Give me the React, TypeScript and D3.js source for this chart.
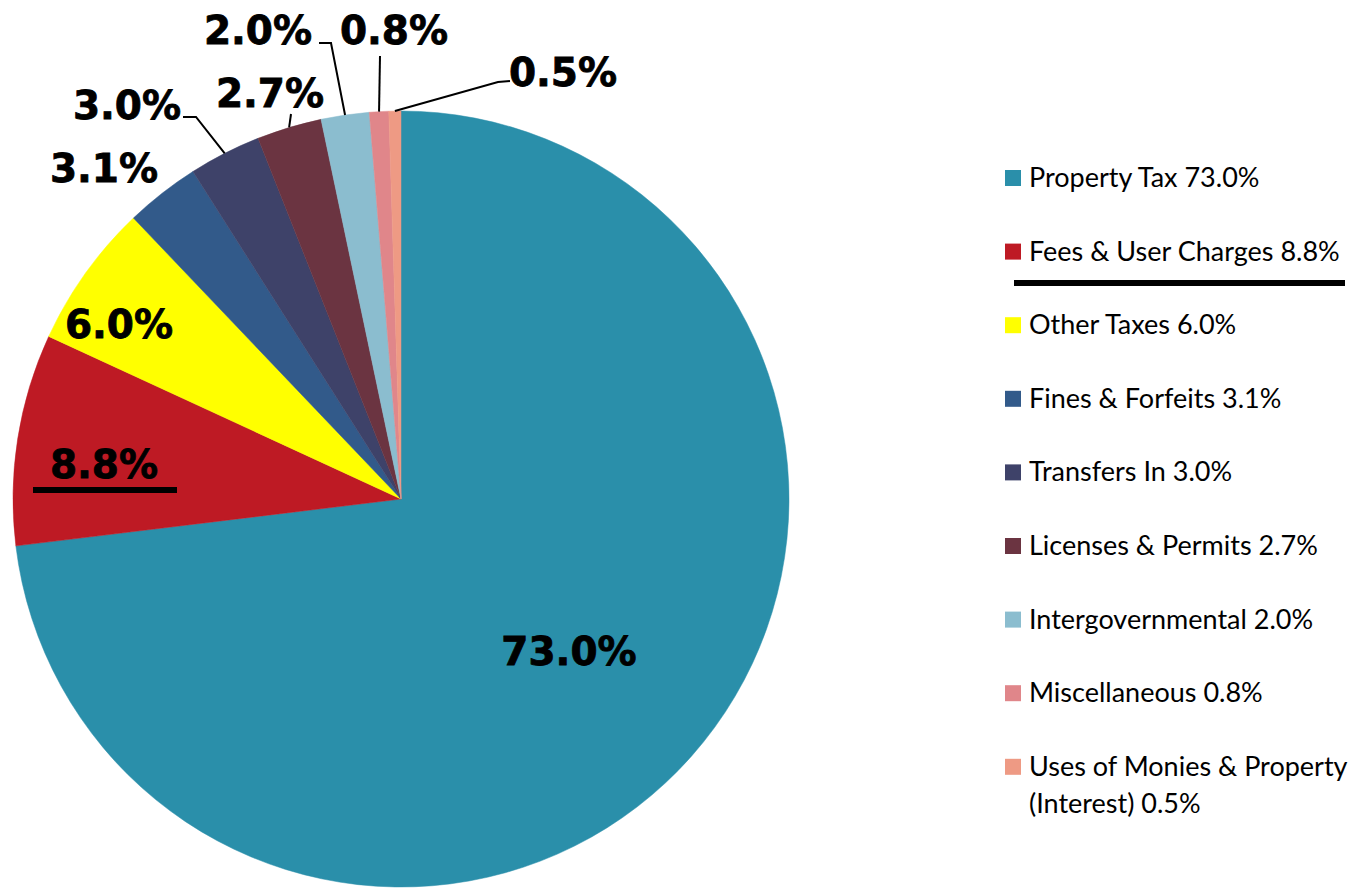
import React from "react";
import * as d3 from "d3";

const categories = [
  "Property Tax",
  "Fees & User Charges",
  "Other Taxes",
  "Fines & Forfeits",
  "Transfers In",
  "Licenses & Permits",
  "Intergovernmental",
  "Miscellaneous",
  "Uses of Monies & Property (Interest)",
];
const values = [73.0, 8.8, 6.0, 3.1, 3.0, 2.7, 2.0, 0.8, 0.5];
const colors = ["#2A8FAA", "#BE1A24", "#FFFF00", "#325A8A", "#3E4269", "#6B3441", "#8BBDCF", "#E0868A", "#EE9A84"];
const legendLines = [
  ["Property Tax 73.0%"],
  ["Fees & User Charges 8.8%"],
  ["Other Taxes 6.0%"],
  ["Fines & Forfeits 3.1%"],
  ["Transfers In 3.0%"],
  ["Licenses & Permits 2.7%"],
  ["Intergovernmental 2.0%"],
  ["Miscellaneous 0.8%"],
  ["Uses of Monies & Property", "(Interest) 0.5%"],
];

// label anchor (centre, baseline) and leader path bends for each slice
const labelPos: [number, number][] = [
  [569, 665], [104, 478], [119, 338], [104, 182], [127, 119], [270, 107], [258, 44], [394, 44], [563, 86],
];
const leaderBends: ([number, number][] | null)[] = [
  null, null, null, null,
  [[183, 117], [196, 117]],
  [[291, 114]],
  [[319, 43], [331, 43]],
  [[380, 56]],
  [[510, 81], [498, 82]],
];

export default function App() {
  const W = 1353, H = 891;
  const cx = 401, cy = 499, R = 388;
  const pie = d3.pie<number>().sort(null).value((d) => d);
  const arcs = pie(values);
  const arc = d3.arc<d3.PieArcDatum<number>>().innerRadius(0).outerRadius(R);
  const line = d3.line();

  const legendX = 1005, legendY0 = 178, legendStep = 73.6;

  return (
    <svg width={W} height={H} style={{ position: "absolute", left: 0, top: 0, background: "#fff" }}>
      <g transform={`translate(${cx},${cy})`}>
        {arcs.map((a, i) => (
          <path key={i} d={arc(a) || ""} fill={colors[i]} stroke={colors[i]} strokeWidth={0.5} />
        ))}
      </g>
      {arcs.map((a, i) => {
        const bends = leaderBends[i];
        if (!bends) return null;
        const mid = (a.startAngle + a.endAngle) / 2;
        const end: [number, number] = [cx + R * Math.sin(mid), cy - R * Math.cos(mid)];
        return <path key={i} d={line([...bends, end]) || ""} fill="none" stroke="#000" strokeWidth={2} />;
      })}
      {values.map((v, i) => (
        <text
          key={i}
          x={labelPos[i][0]}
          y={labelPos[i][1]}
          textAnchor="middle"
          fontFamily="DejaVu Sans"
          fontWeight="bold"
          fontSize={39}
          fill="#000"
          stroke="#000"
          strokeWidth={0.8}
        >
          {v.toFixed(1) + "%"}
        </text>
      ))}
      {/* underline under 8.8% */}
      <rect x={33} y={487} width={144} height={6} fill="#000" />
      {/* legend */}
      {categories.map((c, i) => {
        const y = legendY0 + i * legendStep;
        return (
          <g key={c}>
            <rect x={legendX} y={y - 8} width={16} height={16} fill={colors[i]} />
            {legendLines[i].map((t, j) => (
              <text key={j} x={1029} y={y + 9 + j * 37} fontFamily="Lato" fontSize={27} fill="#000">
                {t}
              </text>
            ))}
          </g>
        );
      })}
      <rect x={1014} y={280} width={331} height={6} fill="#000" />
    </svg>
  );
}
